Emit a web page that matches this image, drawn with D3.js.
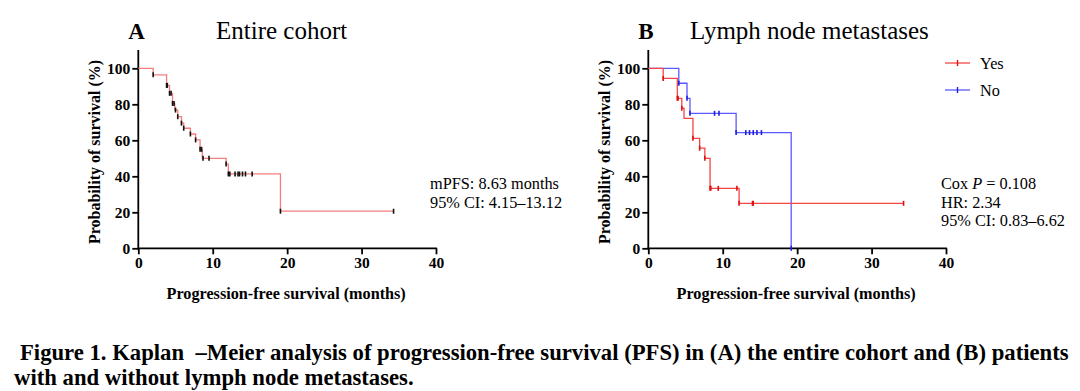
<!DOCTYPE html>
<html><head><meta charset="utf-8">
<script src="https://cdn.jsdelivr.net/npm/d3@7"></script>
<style>html,body{margin:0;padding:0;background:#fff;}svg{display:block;} text{white-space:pre;}</style>
</head><body>
<svg id="chart" width="1080" height="391"></svg>
<script>
// ---------- data ----------
const xTicks = [0, 10, 20, 30, 40];
const yTicks = [0, 20, 40, 60, 80, 100];

// Panel A: entire cohort (step times, survival after step, censor marks)
const aTimes = [0, 2.0, 3.8, 4.2, 4.6, 4.9, 5.3, 5.8, 6.1, 7.0, 7.7, 8.3, 8.6, 11.8, 12.1, 19.1, 34.3];
const aSurv  = [100, 96.4, 90.5, 86.1, 80.5, 76.8, 73.1, 69.5, 66.7, 63.5, 60.2, 55.0, 50.0, 46.8, 41.3, 20.6, 20.6];
const aCensor = [2.0, 3.8, 3.9, 4.2, 4.4, 4.6, 4.8, 5.0, 5.3, 5.8, 6.1, 7.0, 7.7, 8.3, 8.5, 8.7, 9.5, 11.8, 12.1, 12.3, 13.0, 13.4, 13.6, 14.0, 14.4, 15.3, 19.1, 34.3];

// Panel B: lymph node metastases Yes / No
const yesTimes = [0, 2.0, 3.9, 4.5, 4.8, 6.0, 6.9, 7.6, 8.3, 12.2, 34.3];
const yesSurv  = [100, 94.4, 83.3, 77.8, 72.2, 61.1, 55.6, 50.0, 33.3, 25.0, 25.0];
const yesCensor = [2.0, 3.9, 4.0, 4.5, 6.0, 6.9, 7.6, 8.3, 8.4, 9.4, 11.9, 12.2, 14.0, 14.1, 34.3];
const noTimes = [0, 4.1, 5.2, 5.6, 11.8, 19.2];
const noSurv  = [100, 91.7, 83.3, 75.0, 64.3, 0];
const noCensor = [4.1, 5.2, 5.6, 8.9, 9.5, 11.8, 13.1, 13.6, 14.1, 14.6, 15.2, 19.2];

const legendLabels = ["Yes", "No"];
const annotA = ["mPFS: 8.63 months", "95% CI: 4.15\u201313.12"];
const caption1 = "Figure 1. Kaplan  \u2013Meier analysis of progression-free survival (PFS) in (A) the entire cohort and (B) patients";
const caption2 = "with and without lymph node metastases.";

// ---------- drawing ----------
const svg = d3.select("#chart");
const serif = "'Liberation Serif','Times New Roman',serif";

function stepValue(times, surv, t) {
  let v = surv[0];
  for (let i = 0; i < times.length; i++) if (times[i] <= t + 1e-9) v = surv[i];
  return v;
}

function panel(x0, letter, title, titleX, series) {
  const x = d3.scaleLinear().domain([0, 40]).range([x0, x0 + 297.7]);
  const y = d3.scaleLinear().domain([0, 100]).range([248.3, 68.3]);
  const g = svg.append("g");

  const yAx = g.append("g").attr("transform", `translate(${x0},0)`)
    .call(d3.axisLeft(y).tickValues(yTicks).tickSize(6).tickPadding(2));
  const xAx = g.append("g").attr("transform", `translate(0,248.3)`)
    .call(d3.axisBottom(x).tickValues(xTicks).tickSize(6).tickPadding(3));
  [yAx, xAx].forEach(a => {
    a.select(".domain").remove();
    a.selectAll("line").attr("stroke", "#000").attr("stroke-width", 1.8);
    a.selectAll("text").attr("font-family", serif).attr("font-weight", "bold")
      .attr("font-size", 15.5).attr("fill", "#000");
  });
  g.append("line").attr("x1", x0).attr("x2", x0).attr("y1", 50).attr("y2", 249.2)
    .attr("stroke", "#000").attr("stroke-width", 1.8);
  g.append("line").attr("x1", x0 - 0.9).attr("x2", x(40) + 0.9).attr("y1", 248.3).attr("y2", 248.3)
    .attr("stroke", "#000").attr("stroke-width", 1.8);

  g.append("text").attr("transform", `translate(${x0 - 38},${152}) rotate(-90)`)
    .attr("text-anchor", "middle").attr("font-family", serif).attr("font-weight", "bold")
    .attr("font-size", 16).text("Probability of survival (%)");
  g.append("text").attr("x", x(20) - 1).attr("y", 299).attr("text-anchor", "middle")
    .attr("font-family", serif).attr("font-weight", "bold").attr("font-size", 16.2)
    .text("Progression-free survival (months)");

  g.append("text").attr("x", x0 - 10).attr("y", 39).attr("font-family", serif)
    .attr("font-weight", "bold").attr("font-size", 23).text(letter);
  g.append("text").attr("x", titleX).attr("y", 39).attr("font-family", serif)
    .attr("font-size", 25).text(title);

  const line = d3.line().x(d => x(d[0])).y(d => y(d[1])).curve(d3.curveStepAfter);
  series.forEach(s => {
    const pts = s.times.map((t, i) => [t, s.surv[i]]);
    g.append("path").attr("d", line(pts)).attr("fill", "none")
      .attr("stroke", s.color).attr("stroke-width", 1.3);
    g.selectAll(null).data(s.censor).enter().append("line")
      .attr("x1", d => x(d)).attr("x2", d => x(d))
      .attr("y1", d => y(stepValue(s.times, s.surv, d)) - 2.5)
      .attr("y2", d => y(stepValue(s.times, s.surv, d)) + 2.5)
      .attr("stroke", s.tick).attr("stroke-width", 1.6);
  });
  return { x, y, g };
}

panel(138.3, "A", "Entire cohort", 216,
  [{ times: aTimes, surv: aSurv, censor: aCensor, color: "#f57d7d", tick: "#111" }]);
panel(648.3, "B", "Lymph node metastases", 690,
  [{ times: noTimes, surv: noSurv, censor: noCensor, color: "#5a5aff", tick: "#2020e0" },
   { times: yesTimes, surv: yesSurv, censor: yesCensor, color: "#f54646", tick: "#e01010" }]);

const fsAnn = 16.3;
annotA.forEach((t, i) => {
  svg.append("text").attr("x", 430).attr("y", 189 + i * 18.5).attr("font-family", serif)
    .attr("font-size", fsAnn).text(t);
});
const bAnn = svg.append("g").attr("font-family", serif).attr("font-size", fsAnn);
const cox = bAnn.append("text").attr("x", 941).attr("y", 189);
cox.append("tspan").text("Cox ");
cox.append("tspan").attr("font-style", "italic").text("P");
cox.append("tspan").text(" = 0.108");
bAnn.append("text").attr("x", 941).attr("y", 207.5).text("HR: 2.34");
bAnn.append("text").attr("x", 941).attr("y", 226).text("95% CI: 0.83\u20136.62");

const legColors = ["#f54646", "#5a5aff"];
const legTicks = ["#e01010", "#2020e0"];
legendLabels.forEach((lab, i) => {
  const yy = 63 + i * 27;
  svg.append("line").attr("x1", 945).attr("x2", 970).attr("y1", yy).attr("y2", yy)
    .attr("stroke", legColors[i]).attr("stroke-width", 1.3);
  svg.append("line").attr("x1", 957.5).attr("x2", 957.5).attr("y1", yy - 3).attr("y2", yy + 3)
    .attr("stroke", legTicks[i]).attr("stroke-width", 1.4);
  svg.append("text").attr("x", 980).attr("y", yy + 5.5).attr("font-family", serif)
    .attr("font-size", fsAnn).text(lab);
});

svg.append("text").attr("x", 20).attr("y", 360).attr("font-family", serif)
  .attr("font-weight", "bold").attr("font-size", 22.7).text(caption1);
svg.append("text").attr("x", 14).attr("y", 385).attr("font-family", serif)
  .attr("font-weight", "bold").attr("font-size", 22.7).text(caption2);
</script>
</body></html>
